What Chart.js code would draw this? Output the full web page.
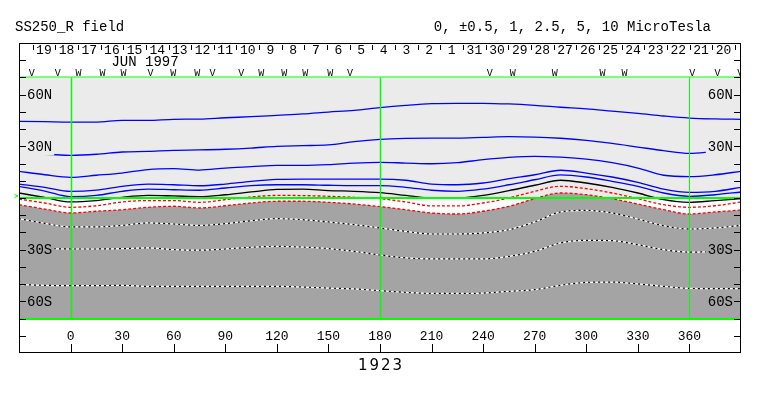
<!DOCTYPE html>
<html>
<head>
<meta charset="utf-8">
<script src="https://cdn.jsdelivr.net/npm/chart.js@4.4.0/dist/chart.umd.min.js"></script>
<style>
  body { margin: 0; background: #fff; }
  #wrap { width: 763px; height: 396px; }
</style>
</head>
<body>
<div id="wrap"><canvas id="map" width="763" height="396"></canvas></div>
<script>
// Carrington longitudes where the contours were sampled
const lonGrid = [-30, -15, 0, 15, 30, 45, 60, 75, 90, 105, 120, 135, 150, 165, 180,
  195, 210, 225, 240, 255, 270, 285, 300, 315, 330, 345, 360, 375, 390];

// contour latitudes (deg), one list per field level
const pos10 = [44.5, 44.3, 44.1, 44.1, 45.1, 45.1, 45.7, 45.8, 46.6, 47.2, 48.0, 48.8, 49.9, 50.9, 52.5,
  53.8, 54.8, 55.0, 55.0, 54.6, 53.8, 52.7, 51.7, 50.4, 49.1, 47.6, 46.4, 45.9, 45.7];
const pos5 = [25.5, 25.4, 24.8, 25.4, 26.7, 27.1, 27.7, 27.9, 28.3, 29.0, 30.0, 30.4, 30.8, 32.7, 34.0,
  34.6, 34.8, 34.8, 35.2, 35.6, 35.4, 34.7, 33.5, 31.7, 29.6, 27.5, 25.9, 26.9, 27.5];
const pos2p5 = [15.5, 13.5, 12.0, 13.2, 14.5, 16.5, 17.0, 16.2, 17.4, 18.2, 19.0, 19.0, 19.4, 20.3, 20.7,
  20.3, 19.9, 20.5, 22.3, 23.6, 24.2, 23.7, 22.6, 20.5, 17.4, 13.2, 12.4, 13.5, 15.5];
const pos1 = [8.1, 6.2, 3.9, 4.6, 6.8, 8.1, 7.7, 7.1, 8.1, 9.7, 10.8, 11.0, 11.0, 11.0, 11.0,
  10.3, 8.1, 7.7, 8.7, 11.2, 13.5, 16.1, 14.5, 12.2, 9.1, 5.2, 3.3, 3.9, 6.2];
const pos0p5 = [6.8, 4.0, 0.8, 1.5, 3.9, 5.2, 4.8, 4.5, 5.8, 7.2, 7.7, 7.7, 7.4, 7.2, 7.2,
  6.2, 4.5, 3.9, 5.2, 7.7, 10.6, 13.4, 12.2, 9.7, 6.8, 2.9, 1.0, 1.9, 3.5];
const neutral = [2.9, 0.3, -2.3, -1.5, 0.4, 1.5, 1.2, 0.8, 1.9, 3.5, 5.0, 5.2, 4.3, 3.9, 3.1,
  1.5, 0.0, 0.0, 1.5, 4.3, 7.4, 10.3, 8.7, 6.2, 2.9, -1.0, -2.5, -1.5, -0.4];
const neg0p5 = [-0.6, -2.9, -5.4, -4.5, -2.3, -1.5, -1.5, -2.5, -1.0, 0.6, 1.5, 1.4, 1.0, 0.4, -0.4,
  -2.3, -4.6, -4.6, -2.9, 0.0, 3.9, 6.8, 5.4, 2.9, -0.4, -3.9, -5.4, -4.5, -2.3];
const neg1 = [-3.9, -6.4, -8.7, -7.7, -6.8, -5.4, -4.8, -5.8, -4.5, -2.9, -1.9, -1.9, -2.5, -3.5, -5.0,
  -6.8, -8.7, -9.3, -7.7, -4.8, -0.4, 2.9, 1.9, -0.4, -3.5, -6.8, -9.3, -8.1, -7.0];
const neg2p5 = [-12.0, -14.7, -16.8, -16.8, -15.9, -14.5, -15.1, -15.9, -14.9, -13.2, -12.0, -12.6, -13.9, -15.5, -17.4,
  -19.4, -20.9, -20.9, -20.3, -18.4, -13.9, -8.1, -7.2, -8.7, -12.2, -16.1, -18.0, -17.4, -15.9];
const neg5 = [-29.4, -29.4, -29.6, -29.6, -29.4, -29.0, -30.0, -30.3, -29.6, -28.6, -28.1, -28.5, -29.4, -31.0, -33.1,
  -34.8, -35.4, -35.4, -35.4, -33.9, -31.0, -26.1, -24.6, -24.8, -27.1, -30.0, -31.4, -31.2, -31.0];
const neg10 = [-50.3, -50.7, -50.9, -50.9, -50.7, -51.3, -51.3, -51.3, -51.3, -51.3, -51.3, -51.7, -52.3, -52.8, -53.8,
  -54.8, -55.4, -55.4, -55.2, -54.2, -53.2, -50.7, -49.0, -48.8, -49.9, -51.3, -52.5, -52.6, -52.6];

// axis ticks and labels
const lonTicks = [0, 30, 60, 90, 120, 150, 180, 210, 240, 270, 300, 330, 360];
const latTicks = [-80, -70, -60, -50, -40, -30, -20, -10, 0, 10, 20, 30, 40, 50, 60, 70, 80];
const latLabelValues = [60, 30, -30, -60];
const latLabelText = ["60N", "30N", "30S", "60S"];

// calendar days along the top (June 1997 back into May)
const dayLabels = [19, 18, 17, 16, 15, 14, 13, 12, 11, 10, 9, 8, 7, 6, 5, 4, 3, 2, 1,
  31, 30, 29, 28, 27, 26, 25, 24, 23, 22, 21, 20];
const dayStartLon = -22.1;
const dayStepLon = 13.18;

// V / W markers on the top row
const vwLon = [-22.6, -7.5, 4.6, 18.6, 30.8, 46.5, 59.8, 73.7, 82.5, 99.3, 110.9, 124.3, 136.5, 151.0, 162.6,
  243.9, 257.2, 281.6, 309.5, 322.3, 361.7, 376.3, 389.5];
const vwMark = ["V", "V", "W", "W", "W", "V", "W", "W", "V", "V", "W", "W", "W", "W", "V",
  "V", "W", "W", "W", "W", "V", "V", "V"];

const rotation = "1923";

const MONO = '"Liberation Mono", "DejaVu Sans Mono", monospace';
const LIGHT = "#ebebeb";
const DARK = "#a4a4a4";

function contour(values, color, dash, width) {
  return {
    data: lonGrid.map((lon, i) => ({ x: lon, y: values[i] })),
    borderColor: color,
    borderWidth: width || 1.3,
    borderDash: dash || [],
    pointRadius: 0,
    fill: false,
    cubicInterpolationMode: "monotone",
  };
}

// dotted lines inside the dark region: white line broken by short black dashes
let negDots = [neg2p5, neg5, neg10].map((v) => contour(v, "#000000", [2, 3], 1.2));
let negBase = [neg2p5, neg5, neg10].map((v) => contour(v, "#ffffff", [], 1.2));

let shaded = contour(neg1, "#ff0000", [3, 2]);
shaded.fill = { value: -70 };
shaded.backgroundColor = DARK;

let datasets = [
  ...negDots,
  ...negBase,
  contour(pos10, "#0000ff"),
  contour(pos5, "#0000ff"),
  contour(pos2p5, "#0000ff"),
  contour(pos1, "#0000ff"),
  contour(pos0p5, "#0000ff"),
  contour(neutral, "#000000"),
  contour(neg0p5, "#ff0000", [3, 2]),
  shaded,
];

const mapFrame = {
  id: "mapFrame",
  beforeDraw(chart) {
    const { ctx, chartArea: a, scales: { y } } = chart;
    // northern half of the map is light grey
    ctx.save();
    ctx.fillStyle = LIGHT;
    let top = y.getPixelForValue(70);
    ctx.fillRect(a.left, top, a.right - a.left, y.getPixelForValue(0) - top);
    ctx.restore();
  },
  afterDatasetsDraw(chart) {
    const { ctx, chartArea: a, scales: { x, y } } = chart;
    ctx.save();

    // green reference lines
    ctx.strokeStyle = "#00ff00";
    [[70, 1], [0, 2], [-70, 2]].forEach(([lat, w]) => {
      let py = Math.round(y.getPixelForValue(lat));
      ctx.lineWidth = w;
      ctx.beginPath();
      ctx.moveTo(a.left, py);
      ctx.lineTo(a.right, py);
      ctx.stroke();
    });
    [[0, 1.5], [180, 1.5], [360, 1]].forEach(([lon, w]) => {
      let px = Math.round(x.getPixelForValue(lon)) + 0.5;
      ctx.lineWidth = w;
      ctx.beginPath();
      ctx.moveTo(px, y.getPixelForValue(70));
      ctx.lineTo(px, y.getPixelForValue(-70));
      ctx.stroke();
    });
    ctx.lineWidth = 1;
    ctx.beginPath();
    let eq = y.getPixelForValue(0);
    ctx.moveTo(14.5, eq - 3.5);
    ctx.lineTo(18, eq - 2);
    ctx.lineTo(14.5, eq - 0.5);
    ctx.stroke();

    // latitude labels sit inside the frame on a patch of background
    ctx.font = "14px " + MONO;
    ctx.textBaseline = "middle";
    latLabelValues.forEach((lat, i) => {
      let py = y.getPixelForValue(lat);
      let text = latLabelText[i];
      let w = ctx.measureText(text).width;
      ctx.fillStyle = lat > 0 ? LIGHT : DARK;
      ctx.fillRect(a.left + 1, py - 8, w + 9, 17);
      ctx.fillRect(a.right - w - 10, py - 8, w + 9, 17);
      ctx.fillStyle = "#000";
      ctx.textAlign = "left";
      ctx.fillText(text, a.left + 8, py + 1);
      ctx.textAlign = "right";
      ctx.fillText(text, a.right - 8, py + 1);
    });

    // side ticks
    ctx.strokeStyle = "#000";
    ctx.lineWidth = 1;
    ctx.beginPath();
    latTicks.forEach((lat) => {
      let py = Math.round(y.getPixelForValue(lat)) + 0.5;
      ctx.moveTo(a.left, py);
      ctx.lineTo(a.left + 7, py);
      ctx.moveTo(a.right - 7, py);
      ctx.lineTo(a.right, py);
    });
    // longitude ticks up from the bottom edge
    lonTicks.forEach((lon) => {
      let px = Math.round(x.getPixelForValue(lon)) + 0.5;
      ctx.moveTo(px, a.bottom);
      ctx.lineTo(px, a.bottom - 9);
    });
    // day boundaries along the top edge
    for (let k = 0; k <= dayLabels.length; k++) {
      let px = Math.round(x.getPixelForValue(dayStartLon + k * dayStepLon)) + 0.5;
      ctx.moveTo(px, a.top + 2);
      ctx.lineTo(px, a.top + 7);
    }
    ctx.stroke();

    ctx.fillStyle = "#000";
    ctx.textAlign = "center";
    ctx.font = "13px " + MONO;
    lonTicks.forEach((lon) => {
      ctx.fillText(String(lon), x.getPixelForValue(lon), a.bottom - 16);
    });
    dayLabels.forEach((d, k) => {
      ctx.fillText(String(d), x.getPixelForValue(dayStartLon + (k + 0.5) * dayStepLon), a.top + 8);
    });
    ctx.font = "14px " + MONO;
    ctx.fillText("JUN 1997", 145, a.top + 19);

    // V / W markers, clipped by the frame
    ctx.save();
    ctx.beginPath();
    ctx.rect(a.left, a.top, a.right - a.left, a.bottom - a.top);
    ctx.clip();
    ctx.font = "10px " + MONO;
    vwLon.forEach((lon, i) => {
      ctx.fillText(vwMark[i], x.getPixelForValue(lon), a.top + 30);
    });
    ctx.restore();

    // frame
    ctx.strokeStyle = "#000";
    ctx.lineWidth = 1;
    ctx.strokeRect(a.left + 0.5, a.top + 0.5, a.right - a.left - 1, a.bottom - a.top - 1);

    // titles
    ctx.fillStyle = "#000";
    ctx.font = "14px " + MONO;
    ctx.textAlign = "left";
    ctx.fillText("SS250_R field", 15, 27);
    ctx.textAlign = "right";
    ctx.fillText("0, \u00b10.5, 1, 2.5, 5, 10 MicroTesla", 711, 27);

    ctx.textAlign = "center";
    ctx.font = '15px "DejaVu Sans", sans-serif';
    ctx.letterSpacing = "2px";
    ctx.fillText(rotation, 381, 366);
    ctx.restore();
  },
};

new Chart(document.getElementById("map").getContext("2d"), {
  type: "line",
  data: { datasets },
  options: {
    responsive: false,
    devicePixelRatio: 1,
    animation: false,
    layout: { padding: { left: 19, right: 22, top: 43, bottom: 43 } },
    scales: {
      x: { type: "linear", min: -30, max: 390, display: false },
      y: { type: "linear", min: -90, max: 90, display: false },
    },
    plugins: {
      legend: { display: false },
      tooltip: { enabled: false },
      filler: { drawTime: "beforeDatasetsDraw" },
    },
  },
  plugins: [mapFrame],
});
</script>
</body>
</html>
